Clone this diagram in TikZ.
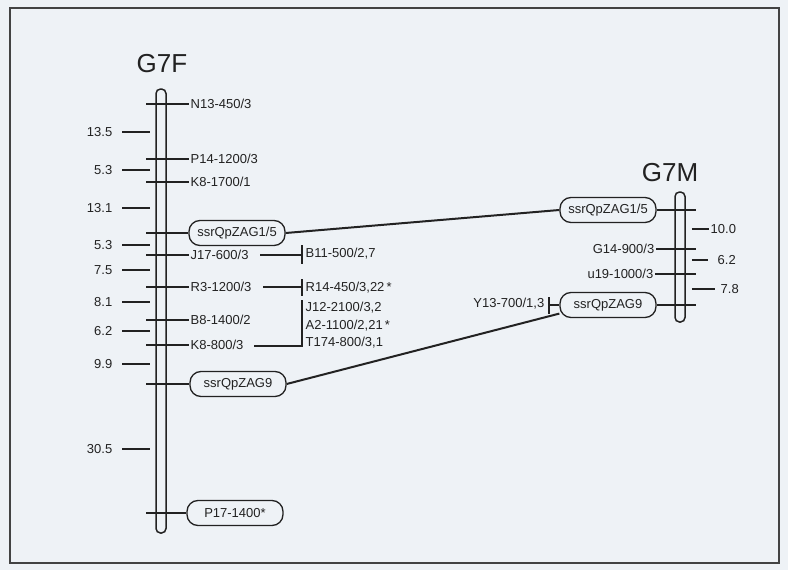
\documentclass[tikz,border=0pt]{standalone}
\usepackage{fontspec}
\setmainfont{Liberation Sans}
\definecolor{ink}{HTML}{222222}
\definecolor{bgc}{HTML}{EEF2F6}
\begin{document}
\begin{tikzpicture}[x=1pt,y=-1pt,
  lbl/.style={font=\fontsize{13}{13}\selectfont, text=ink, inner sep=1.5pt},
  mk/.style={lbl, anchor=west},
  mkl/.style={lbl, anchor=east},
  dist/.style={lbl, anchor=east},
  distr/.style={lbl, anchor=west},
  box/.style={draw=ink, line width=1.3pt, rounded corners=11pt, minimum width=96pt,
    minimum height=25pt, inner sep=0pt, font=\fontsize{13}{13}\selectfont, text=ink},
  chrom/.style={draw=ink, line width=1.5pt, rounded corners=4.5pt, minimum width=10pt, inner sep=0pt},
  tk/.style={draw=ink, line width=1.1pt},
  link/.style={draw=ink, line width=2pt},
  ttl/.style={font=\fontsize{26}{26}\selectfont, text=ink, inner sep=0pt}
]
\useasboundingbox (0,0) rectangle (788,570);
\fill[bgc] (0,0) rectangle (788,570);
\draw[ink!85, line width=1.8pt] (10,8) rectangle (779,563);

% titles
\node[ttl] (tF) at (162,64) {G7F};
\node[ttl] (tM) at (670,173) {G7M};

% chromosomes
\node[chrom, minimum height=444pt] (cF) at (161,311) {};
\node[chrom, minimum height=130pt] (cM) at (680,257) {};

% ---- G7F markers ----
\node[mk] (n13) at (189,104) {N13-450/3};
\node[mk] (p14) at (189,159) {P14-1200/3};
\node[mk] (k8a) at (189,182) {K8-1700/1};
\node[mk] (j17) at (189,255) {J17-600/3};
\node[mk] (r3)  at (189,287) {R3-1200/3};
\node[mk] (b8)  at (189,320) {B8-1400/2};
\node[mk] (k8b) at (189,345) {K8-800/3};
\node[box] (f1)  at (237,233) {ssrQpZAG1/5};
\node[box] (f9)  at (238,384) {ssrQpZAG9};
\node[box] (p17) at (235,513) {P17-1400*};

\foreach \n in {n13,p14,k8a,j17,r3,b8,k8b,f1,f9,p17}
  \draw[tk] ([xshift=-9pt]cF.west |- \n.west) -- (\n.west);

% ---- G7F distances ----
\foreach \v/\y/\nm in {13.5/132/d1, 5.3/170/d2, 13.1/208/d3, 5.3/245/d4, 7.5/270/d5,
                       8.1/302/d6, 6.2/331/d7, 9.9/364/d8, 30.5/449/d9}{
  \node[dist] (\nm) at (114,\y) {\v};
  \draw[tk] ([xshift=8pt]\nm.east) -- ++(28,0);
}

% ---- brackets to the right of G7F ----
\node[mk] (b11) at (304,254) {B11-500/2,7};
\node[mk] (r14) at (304,288) {R14-450/3,22\,*};
\node[mk] (j12) at (304,308) {J12-2100/3,2};
\node[mk] (a2)  at (304,326) {A2-1100/2,21\,*};
\node[mk] (t174) at (304,343) {T174-800/3,1};
\coordinate (bk1) at (302,255);
\coordinate (bk2) at (302,287);
\coordinate (bk3) at (302,346);
\draw[tk] ([xshift=10pt]j17.east) -- (bk1);
\draw[tk] (302,245) -- (302,264);
\draw[tk] ([xshift=10pt]r3.east) -- (bk2);
\draw[tk] (302,279) -- (302,296);
\draw[tk] ([xshift=9pt]k8b.east |- bk3) -- (bk3) -- (302,300);

% ---- G7M markers ----
\node[box] (m1) at (608,210) {ssrQpZAG1/5};
\node[box] (m9) at (608,305) {ssrQpZAG9};
\node[mkl] (g14) at (656,249) {G14-900/3};
\node[mkl] (u19) at (655,274) {u19-1000/3};
\node[mkl] (y13) at (546,304) {Y13-700/1,3};
\foreach \n in {m1,m9,g14,u19}
  \draw[tk] (\n.east) -- ([xshift=10pt]cM.east |- \n.east);
\coordinate (yb) at (549,305);
\draw[tk] (549,297) -- (549,314);
\draw[tk] (yb) -- (m9.west);

% ---- G7M distances ----
\node[distr] (e1) at (709,229) {10.0};
\node[distr] (e2) at (716,260) {6.2};
\node[distr] (e3) at (719,289) {7.8};
\draw[tk] ([xshift=6pt]cM.east |- e1.west) -- (e1.west);
\draw[tk] ([xshift=6pt]cM.east |- e2.west) -- ([xshift=-8pt]e2.west);
\draw[tk] ([xshift=6pt]cM.east |- e3.west) -- ([xshift=-4pt]e3.west);

% ---- links ----
\draw[link] (f1.east) -- (m1.west);
\draw[link] (f9.east) -- (m9.190);
\end{tikzpicture}
\end{document}
